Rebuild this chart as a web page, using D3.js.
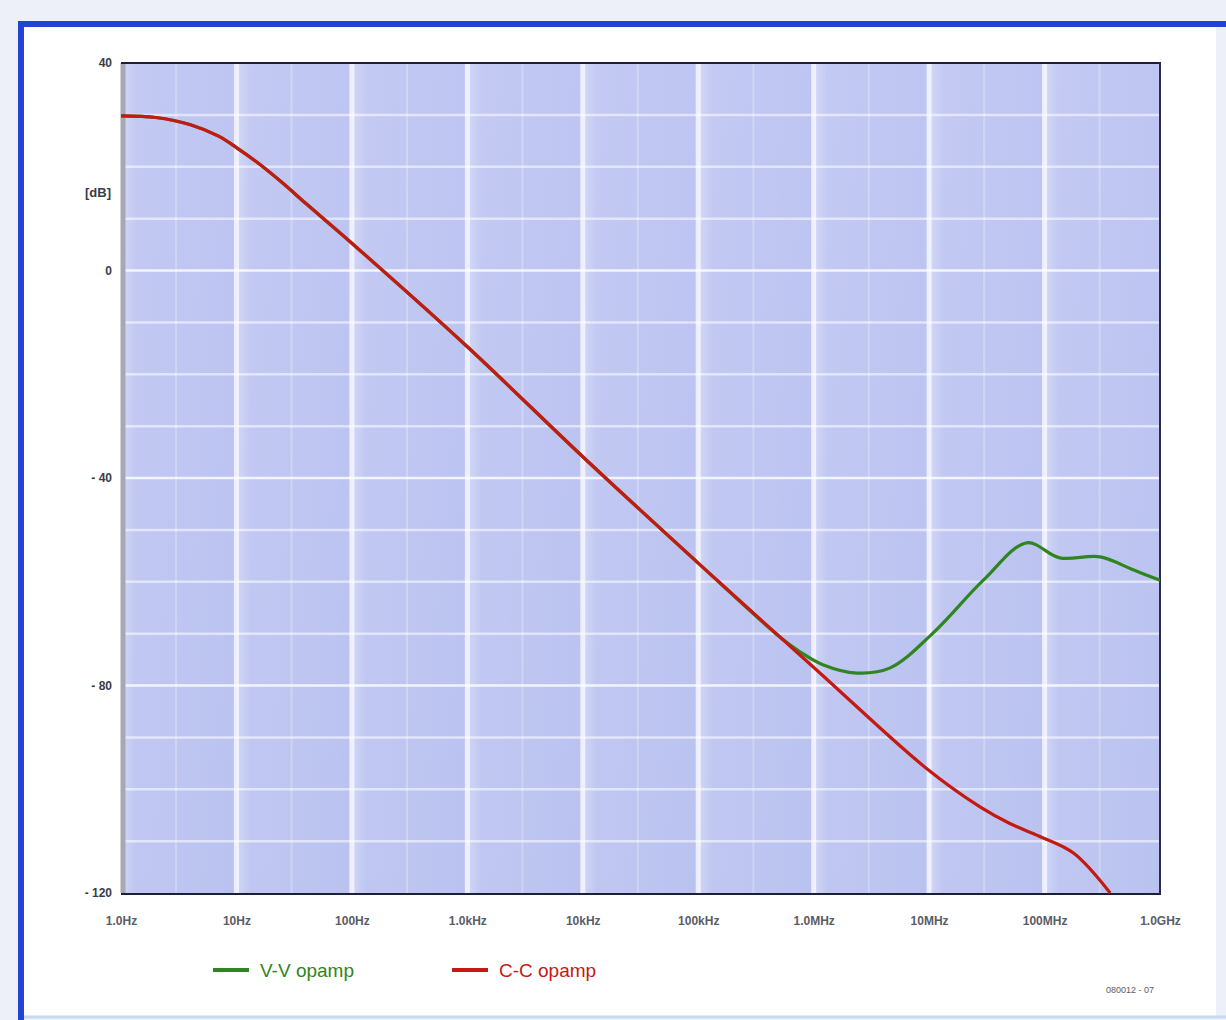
<!DOCTYPE html>
<html><head><meta charset="utf-8">
<script src="https://cdn.jsdelivr.net/npm/d3@7"></script>
<style>html,body{margin:0;padding:0;background:#eef0f9;}svg{display:block;}</style>
</head><body>
<script>
// ---- data ----
const xTickValues = [1, 10, 100, 1e3, 1e4, 1e5, 1e6, 1e7, 1e8, 1e9];
const xTickLabels = ["1.0Hz", "10Hz", "100Hz", "1.0kHz", "10kHz", "100kHz", "1.0MHz", "10MHz", "100MHz", "1.0GHz"];
const yTickValues = [40, 0, -40, -80, -120];
const yTickLabels = ["40", "0", "- 40", "- 80", "- 120"];
const yUnit = "[dB]";

const ccFreq = [1, 2, 4, 7, 10, 15, 25, 40, 96, 1e3, 1e4, 1e5, 1.06e6, 9.5e6, 27.6e6, 50e6, 91e6, 178e6, 370e6];
const ccGain = [29.8, 29.5, 28.1, 25.9, 23.7, 20.9, 16.9, 12.9, 5.6, -14.7, -35.9, -56.4, -77.0, -96.0, -103.4, -106.6, -109.1, -112.3, -120.0];

const vvFreq = [1, 2, 4, 7, 10, 15, 25, 40, 96, 1e3, 1e4, 1e5, 5e5, 7.6e5, 1.2e6, 2.36e6, 4.6e6, 10.8e6, 29.5e6, 70e6, 135e6, 303e6, 585e6, 1e9];
const vvGain = [29.8, 29.5, 28.1, 25.9, 23.7, 20.9, 16.9, 12.9, 5.6, -14.7, -35.9, -56.4, -70.5, -73.5, -76.0, -77.6, -76.6, -69.9, -59.7, -52.5, -55.4, -55.2, -57.7, -59.7];

const seriesNames = ["V-V opamp", "C-C opamp"];
const seriesColors = ["#2f8520", "#c41a12"];
const figureCode = "080012 - 07";

// ---- drawing ----
const W = 1226, H = 1020;
const svg = d3.select("body").append("svg").attr("width", W).attr("height", H);

// page frame
svg.append("rect").attr("x", 0).attr("y", 0).attr("width", W).attr("height", H).attr("fill", "#eef0f9");
svg.append("rect").attr("x", 22).attr("y", 24).attr("width", W - 32).attr("height", H - 28).attr("fill", "#ffffff");
svg.append("line").attr("x1", 18).attr("x2", W).attr("y1", 24).attr("y2", 24).attr("stroke", "#2244d4").attr("stroke-width", 6);
svg.append("line").attr("x1", 21).attr("x2", 21).attr("y1", 21).attr("y2", H).attr("stroke", "#2244d4").attr("stroke-width", 6);
svg.append("line").attr("x1", 24).attr("x2", W).attr("y1", H - 3).attr("y2", H - 3).attr("stroke", "#c8d8f0").attr("stroke-width", 3);

const L = 121, R = 1160, T = 63, B = 893;
const x = d3.scaleLog().domain([1, 1e9]).range([L, R]);
const y = d3.scaleLinear().domain([-120, 40]).range([B, T]);

// plot background
const defs = svg.append("defs");
const grad = defs.append("linearGradient").attr("id", "bg").attr("x1", 0).attr("x2", 0).attr("y1", 0).attr("y2", 1);
grad.append("stop").attr("offset", 0).attr("stop-color", "#bec5f2");
grad.append("stop").attr("offset", 1).attr("stop-color", "#bac2f0");
svg.append("rect").attr("x", L).attr("y", T).attr("width", R - L).attr("height", B - T).attr("fill", "url(#bg)");

const cg = defs.append("linearGradient").attr("id", "colgrad").attr("x1", 0).attr("x2", 1).attr("y1", 0).attr("y2", 0);
cg.append("stop").attr("offset", 0).attr("stop-color", "#ffffff").attr("stop-opacity", 0.35);
cg.append("stop").attr("offset", 0.12).attr("stop-color", "#ffffff").attr("stop-opacity", 0.08);
cg.append("stop").attr("offset", 1).attr("stop-color", "#ffffff").attr("stop-opacity", 0.0);

// lighter band at start of each decade
const decades = d3.range(0, 9).map(i => Math.pow(10, i));
svg.append("g").selectAll("rect").data(decades).join("rect")
  .attr("x", d => x(d)).attr("y", T)
  .attr("width", d => x(d * 10) - x(d)).attr("height", B - T)
  .attr("fill", "url(#colgrad)");

// minor vertical lines at 3x each decade
svg.append("g").selectAll("line").data(decades.map(d => d * 3)).join("line")
  .attr("x1", d => x(d)).attr("x2", d => x(d)).attr("y1", T).attr("y2", B)
  .attr("stroke", "#ffffff").attr("stroke-opacity", 0.25).attr("stroke-width", 2);

// decade vertical lines
svg.append("g").selectAll("line").data(xTickValues.slice(1, -1)).join("line")
  .attr("x1", d => x(d)).attr("x2", d => x(d)).attr("y1", T).attr("y2", B)
  .attr("stroke", "#f4f6ff").attr("stroke-opacity", 0.85).attr("stroke-width", 5);

// horizontal grid every 10 dB
svg.append("g").selectAll("line").data(d3.range(-110, 40, 10)).join("line")
  .attr("x1", L).attr("x2", R).attr("y1", d => y(d)).attr("y2", d => y(d))
  .attr("stroke", "#ffffff").attr("stroke-opacity", d => d % 40 === 0 ? 0.8 : 0.55).attr("stroke-width", 2.5);

// frame of plot
svg.append("line").attr("x1", L + 2).attr("x2", L + 2).attr("y1", T).attr("y2", B).attr("stroke", "#a6a8b4").attr("stroke-width", 5);
svg.append("line").attr("x1", L).attr("x2", R + 1).attr("y1", T).attr("y2", T).attr("stroke", "#1c1f3a").attr("stroke-width", 2);
svg.append("line").attr("x1", L).attr("x2", R + 1).attr("y1", B + 1).attr("y2", B + 1).attr("stroke", "#1c1f3a").attr("stroke-width", 2);
svg.append("line").attr("x1", R).attr("x2", R).attr("y1", T).attr("y2", B + 1).attr("stroke", "#2a2d48").attr("stroke-width", 2);

// curves
const clip = defs.append("clipPath").attr("id", "clip");
clip.append("rect").attr("x", L).attr("y", T).attr("width", R - L).attr("height", B - T + 1);
const line = d3.line().x(d => x(d[0])).y(d => y(d[1])).curve(d3.curveCatmullRom.alpha(0.5));
const ccData = ccFreq.map((f, i) => [f, ccGain[i]]);
const vvData = vvFreq.map((f, i) => [f, vvGain[i]]);
const cg2 = svg.append("g").attr("clip-path", "url(#clip)");
cg2.append("path").attr("d", line(vvData)).attr("fill", "none").attr("stroke", seriesColors[0]).attr("stroke-width", 3.2);
cg2.append("path").attr("d", line(ccData)).attr("fill", "none").attr("stroke", seriesColors[1]).attr("stroke-width", 3.2);

// axes
const xAxis = d3.axisBottom(x).tickValues(xTickValues).tickFormat((d, i) => xTickLabels[i]).tickSize(0).tickPadding(0);
const gx = svg.append("g").attr("transform", `translate(0,${B + 32})`).call(xAxis);
gx.select(".domain").remove();
gx.selectAll("text").attr("font-family", "Liberation Sans, Arial, sans-serif").attr("font-size", 12)
  .attr("font-weight", "bold").attr("fill", "#5a5d66").attr("dy", "0");

const yAxis = d3.axisLeft(y).tickValues(yTickValues).tickFormat((d, i) => yTickLabels[i]).tickSize(0).tickPadding(0);
const gy = svg.append("g").attr("transform", `translate(${L - 9},0)`).call(yAxis);
gy.select(".domain").remove();
gy.selectAll("text").attr("font-family", "Liberation Sans, Arial, sans-serif").attr("font-size", 12)
  .attr("font-weight", "bold").attr("fill", "#3a3d48");
svg.append("text").attr("x", L - 10).attr("y", y(15)).attr("dy", "0.35em").attr("text-anchor", "end")
  .attr("font-family", "Liberation Sans, Arial, sans-serif").attr("font-size", 13).attr("font-weight", "bold")
  .attr("fill", "#3a3d48").text(yUnit);

// legend
const legX = [213, 452];
seriesNames.forEach((name, i) => {
  svg.append("line").attr("x1", legX[i]).attr("x2", legX[i] + 36).attr("y1", 970).attr("y2", 970)
    .attr("stroke", seriesColors[i]).attr("stroke-width", 4);
  svg.append("text").attr("x", legX[i] + 47).attr("y", 970).attr("dy", "0.35em")
    .attr("font-family", "Liberation Sans, Arial, sans-serif").attr("font-size", 19)
    .attr("fill", seriesColors[i]).text(name);
});

svg.append("text").attr("x", 1154).attr("y", 993).attr("text-anchor", "end")
  .attr("font-family", "Liberation Sans, Arial, sans-serif").attr("font-size", 9)
  .attr("fill", "#5a5d66").text(figureCode);
</script>
</body></html>
